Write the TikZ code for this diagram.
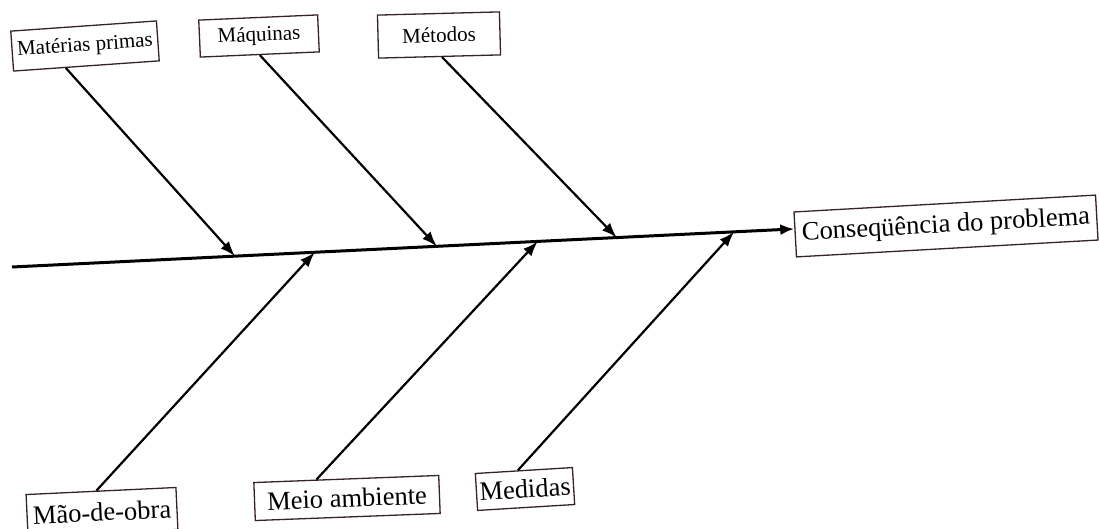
\documentclass[tikz,border=0pt]{standalone}
\usepackage{fontspec}
\setmainfont{Liberation Serif}
\usetikzlibrary{arrows.meta,calc}
\definecolor{boxc}{RGB}{55,35,35}
\begin{document}
\begin{tikzpicture}[x=1pt,y=-1pt,
  lbl/.style={draw=boxc, line width=1.3pt, fill=white, inner xsep=3pt, inner ysep=0pt, align=center},
  toplbl/.style={lbl, font=\fontsize{21}{24}\selectfont},
  botlbl/.style={lbl, font=\fontsize{26.5}{30}\selectfont},
  spine/.style={line width=3pt, -{Latex[length=14pt,width=11pt]}},
  bone/.style={line width=2.2pt, -{Latex[length=15pt,width=11pt]}}]
\useasboundingbox (0,0) rectangle (1099,529);

\node[toplbl, rotate=4, minimum width=146pt, minimum height=40pt] (mp) at (85,46) {Matérias primas};
\node[toplbl, rotate=2.5, minimum width=119pt, minimum height=37pt] (maq) at (259,36) {Máquinas};
\node[toplbl, rotate=1.5, minimum width=122pt, minimum height=43pt] (met) at (439,35) {Métodos};
\node[botlbl, rotate=3.2, minimum width=302pt, minimum height=45pt] (cons) at (946,226) {Conseqüência do problema};
\node[botlbl, rotate=2.7, minimum width=150pt, minimum height=42pt] (mao) at (102,512) {Mão-de-obra};
\node[botlbl, rotate=2.2, minimum width=185pt, minimum height=38pt] (meio) at (347,498) {Meio ambiente};
\node[botlbl, rotate=3.5, minimum width=95pt, minimum height=37pt] (med) at (525,489) {Medidas};

\coordinate (s0) at (12,267);
\coordinate (sE) at ($(cons.north west)!0.38!(cons.south west)$);
\draw[spine] (s0) -- (sE);
\path (s0) -- (sE)
  coordinate[pos=0.285] (p1)
  coordinate[pos=0.387] (p2)
  coordinate[pos=0.543] (p3)
  coordinate[pos=0.672] (p4)
  coordinate[pos=0.773] (p5)
  coordinate[pos=0.923] (p6);

\draw[bone] ($(mp.south west)!0.36!(mp.south east)$) -- (p1);
\draw[bone] (maq.south) -- (p3);
\draw[bone] ($(met.south west)!0.52!(met.south east)$) -- (p5);
\draw[bone] ($(mao.north west)!0.47!(mao.north east)$) -- (p2);
\draw[bone] ($(meio.north west)!0.34!(meio.north east)$) -- (p4);
\draw[bone] ($(med.north west)!0.44!(med.north east)$) -- (p6);
\end{tikzpicture}
\end{document}
